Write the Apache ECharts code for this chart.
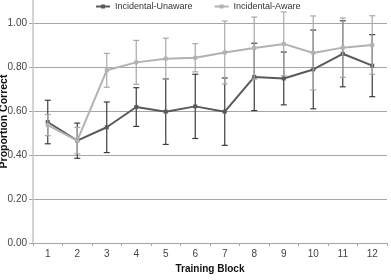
<!DOCTYPE html>
<html>
<head>
<meta charset="UTF-8">
<title>Proportion Correct by Training Block</title>
<script src="https://cdn.jsdelivr.net/npm/echarts@6/dist/echarts.min.js"></script>
<style>
  html, body { margin: 0; padding: 0; background: #fff; }
  #main { width: 391px; height: 280px; }
</style>
</head>
<body>
<div id="main"></div>
<script>
// data
var blocks = ['1', '2', '3', '4', '5', '6', '7', '8', '9', '10', '11', '12'];
var unaware = [0.55, 0.465, 0.526, 0.618, 0.597, 0.621, 0.597, 0.755, 0.748, 0.789, 0.86, 0.806];
var unawareErr = [0.099, 0.08, 0.115, 0.088, 0.149, 0.146, 0.153, 0.153, 0.12, 0.179, 0.15, 0.141];
var aware = [0.536, 0.465, 0.785, 0.821, 0.838, 0.842, 0.866, 0.886, 0.905, 0.864, 0.888, 0.9];
var awareErr = [0.048, 0.06, 0.077, 0.1, 0.093, 0.064, 0.143, 0.141, 0.145, 0.168, 0.135, 0.133];

var darkCol = '#5a5a5a';
var lightCol = '#b2b2b2';
var font = '"Liberation Sans", Arial, sans-serif';

// error bar drawing: vertical line + caps
function errBars(vals, errs, color) {
    return function (params, api) {
        var i = api.value(0);
        var top = api.coord([i, vals[i] + errs[i]]);
        var bot = api.coord([i, vals[i] - errs[i]]);
        var w = 3;
        var st = { stroke: color, lineWidth: 1.2 };
        return {
            type: 'group',
            children: [
                { type: 'line', shape: { x1: top[0], y1: top[1], x2: bot[0], y2: bot[1] }, style: st },
                { type: 'line', shape: { x1: top[0] - w, y1: top[1], x2: top[0] + w, y2: top[1] }, style: st },
                { type: 'line', shape: { x1: bot[0] - w, y1: bot[1], x2: bot[0] + w, y2: bot[1] }, style: st }
            ]
        };
    };
}

var idx = blocks.map(function (b, i) { return [i]; });

var myChart = echarts.init(document.getElementById('main'));
var option = {
    animation: false,
    textStyle: { fontFamily: font },
    legend: {
        data: ['Incidental-Unaware', 'Incidental-Aware'],
        left: 90,
        top: 0,
        padding: [2, 5],
        itemWidth: 14,
        itemHeight: 5,
        itemGap: 21,
        textStyle: { fontSize: 9, color: '#333', fontFamily: font }
    },
    grid: [
        { left: 33, right: 4, top: 23, bottom: 37, outerBoundsMode: 'none', containLabel: false },
        { left: 33, right: 4, top: 0, bottom: 37, outerBoundsMode: 'none', containLabel: false }
    ],
    xAxis: [{
        gridIndex: 0,
        type: 'category',
        data: blocks,
        name: 'Training Block',
        nameLocation: 'middle',
        nameGap: 18,
        nameTextStyle: { fontWeight: 'bold', fontSize: 10, color: '#111', fontFamily: font, verticalAlign: 'top' },
        axisLine: { lineStyle: { color: '#a6a6a6', width: 1 } },
        axisTick: { show: true, length: 3, lineStyle: { color: '#a6a6a6' } },
        axisLabel: { fontSize: 10, color: '#444', margin: 6 }
    }, {
        gridIndex: 1,
        type: 'category',
        data: blocks,
        show: false
    }],
    yAxis: [{
        gridIndex: 0,
        type: 'value',
        min: 0,
        max: 1,
        interval: 0.2,
        axisLine: { show: false },
        axisTick: { show: true, length: 4, lineStyle: { color: '#a6a6a6' } },
        axisLabel: {
            fontSize: 10, color: '#444', margin: 6,
            formatter: function (v) { return v.toFixed(2); }
        },
        splitLine: { lineStyle: { color: '#a6a6a6', width: 1 } }
    }, {
        gridIndex: 1,
        type: 'value',
        position: 'left',
        min: 0,
        max: 1,
        name: 'Proportion Correct',
        nameLocation: 'middle',
        nameGap: 23,
        nameTextStyle: { fontWeight: 'bold', fontSize: 10.5, color: '#111', fontFamily: font },
        axisLine: { show: true, onZero: false, lineStyle: { color: '#d4d4d4', width: 2 } },
        axisTick: { show: false },
        axisLabel: { show: false },
        splitLine: { show: false }
    }],
    series: [{
        name: 'unawareErr',
        type: 'custom',
        clip: false,
        data: idx,
        renderItem: errBars(unaware, unawareErr, '#3c3c3c'),
        z: 3
    }, {
        name: 'Incidental-Unaware',
        type: 'line',
        data: unaware,
        symbol: 'rect',
        symbolSize: 4,
        lineStyle: { color: darkCol, width: 2 },
        itemStyle: { color: darkCol },
        z: 4
    }, {
        name: 'awareErr',
        type: 'custom',
        clip: false,
        data: idx,
        renderItem: errBars(aware, awareErr, '#a8a8a8'),
        z: 5
    }, {
        name: 'Incidental-Aware',
        type: 'line',
        data: aware,
        symbol: 'rect',
        symbolSize: 4,
        lineStyle: { color: lightCol, width: 2 },
        itemStyle: { color: lightCol },
        z: 6
    }]
};
myChart.setOption(option);
</script>
</body>
</html>
